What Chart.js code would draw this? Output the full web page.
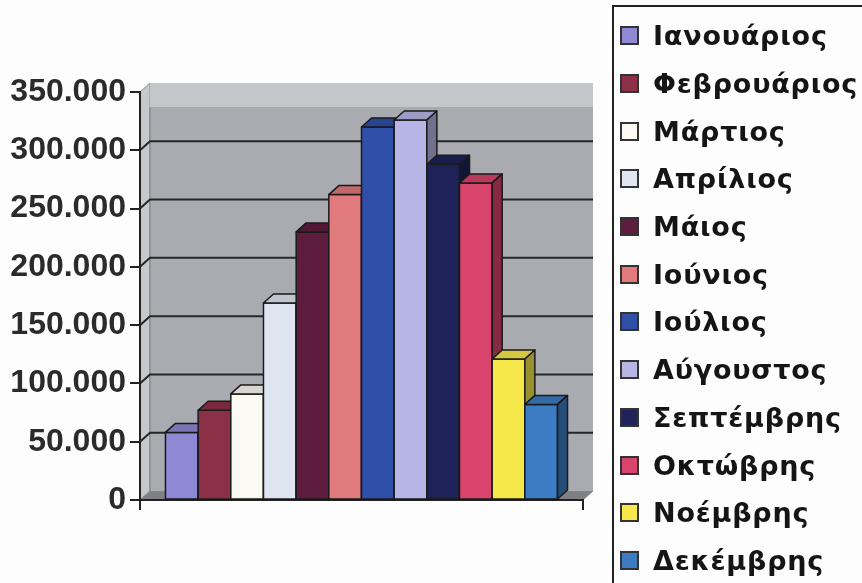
<!DOCTYPE html>
<html>
<head>
<meta charset="utf-8">
<script src="https://cdn.jsdelivr.net/npm/chart.js@4/dist/chart.umd.min.js"></script>
<style>
  body { margin: 0; background: #fdfdfd; }
  #wrap { position: relative; width: 862px; height: 583px; overflow: hidden; }
  #legend {
    position: absolute; left: 612px; top: 5px; width: 260px; height: 600px;
    border-left: 2px solid #222; border-top: 2px solid #222;
    padding-top: 5px; box-sizing: border-box;
    font-family: 'DejaVu Sans', sans-serif; font-size: 27px; font-weight: 700;
    letter-spacing: 0.8px; color: #151515;
  }
  .item { height: 47.7px; display: flex; align-items: center; white-space: nowrap; }
  .box { width: 15px; height: 15px; border: 2px solid #333; margin: 0 14px 0 6px; flex: none; }
</style>
</head>
<body>
<div id="wrap">
  <canvas id="chart" width="862" height="583"></canvas>
  <div id="legend"></div>
</div>
<script>
const months = ['Ιανουάριος', 'Φεβρουάριος', 'Μάρτιος', 'Απρίλιος', 'Μάιος', 'Ιούνιος',
  'Ιούλιος', 'Αύγουστος', 'Σεπτέμβρης', 'Οκτώβρης', 'Νοέμβρης', 'Δεκέμβρης'];
const values = [58000, 77000, 91000, 169000, 230000, 262000, 320000, 326000, 288000, 272000, 121000, 82000];
const colors = ['#8f88d4', '#8c3048', '#fafaf2', '#dfe6f2', '#5e1c3e', '#e07a7c',
  '#2f4fa8', '#b7b5e6', '#1d2258', '#d8446c', '#f6e84a', '#3b7cc2'];
const yTicks = { min: 0, max: 350000, step: 50000 };

// depth of the fake 3D
const DX = 10, DY = -9;

function shade(hex, f) {
  const n = parseInt(hex.slice(1), 16);
  const r = Math.round(((n >> 16) & 255) * f), g = Math.round(((n >> 8) & 255) * f), b = Math.round((n & 255) * f);
  return `rgb(${r},${g},${b})`;
}

function poly(ctx, pts, fill) {
  ctx.beginPath();
  ctx.moveTo(pts[0][0], pts[0][1]);
  pts.slice(1).forEach(p => ctx.lineTo(p[0], p[1]));
  ctx.closePath();
  ctx.fillStyle = fill;
  ctx.fill();
  ctx.stroke();
}

const bars3d = {
  id: 'bars3d',
  beforeDraw(chart) {
    const { ctx, chartArea: { left: L, right: R, top: T, bottom: B } } = chart;
    const ys = chart.scales.y;
    ctx.save();
    ctx.lineJoin = 'round';
    // left wall + floor
    ctx.strokeStyle = '#8a8c90'; ctx.lineWidth = 1;
    poly(ctx, [[L, B], [L, T], [L + DX, T + DY], [L + DX, B + DY]], '#c6c8cc');
    poly(ctx, [[L, B], [R, B], [R + DX, B + DY], [L + DX, B + DY]], '#7e8084');
    // back wall
    ctx.fillStyle = '#a9abb1';
    ctx.fillRect(L + DX, T + DY, R - L, B - T);
    ctx.fillStyle = '#c4c6ca';
    ctx.fillRect(L + DX, T + DY, R - L, 24);
    ctx.strokeStyle = '#7a7c80';
    ctx.beginPath(); ctx.moveTo(L + DX, T + DY + 24); ctx.lineTo(L + DX, B + DY); ctx.stroke();
    // grid lines on the back wall
    ctx.strokeStyle = '#262626'; ctx.lineWidth = 2;
    ys.ticks.forEach(t => {
      if (t.value <= 0 || t.value >= yTicks.max) return;
      const py = ys.getPixelForValue(t.value);
      ctx.beginPath();
      ctx.moveTo(L, py); ctx.lineTo(L + DX, py + DY); ctx.lineTo(R + DX, py + DY);
      ctx.stroke();
    });
    ctx.restore();
  },
  beforeDatasetDraw() { return false; },
  afterDatasetsDraw(chart) {
    const { ctx } = chart;
    ctx.save();
    ctx.strokeStyle = '#1a1a1a'; ctx.lineWidth = 1.5; ctx.lineJoin = 'round';
    chart.data.datasets.forEach((ds, i) => {
      const el = chart.getDatasetMeta(i).data[0];
      const { x, y, base, width } = el.getProps(['x', 'y', 'base', 'width'], true);
      const l = x - width / 2, r = x + width / 2;
      const c = ds.backgroundColor;
      poly(ctx, [[l, base], [l, y], [r, y], [r, base]], c);
      poly(ctx, [[l, y], [l + DX, y + DY], [r + DX, y + DY], [r, y]], shade(c, 0.86));
      poly(ctx, [[r, y], [r + DX, y + DY], [r + DX, base + DY], [r, base]], shade(c, 0.62));
    });
    ctx.restore();
  }
};

const chart = new Chart(document.getElementById('chart'), {
  type: 'bar',
  data: {
    labels: [''],
    datasets: months.map((m, i) => ({
      label: m, data: [values[i]], backgroundColor: colors[i],
      categoryPercentage: 0.885, barPercentage: 1
    }))
  },
  options: {
    responsive: false, animation: false,
    layout: { padding: { top: 92, right: 279, left: 0, bottom: 0 } },
    scales: {
      x: {
        grid: { drawOnChartArea: false, tickLength: 10, color: '#222', lineWidth: 2 },
        border: { color: '#222', width: 2 },
        ticks: { display: false },
        afterFit: s => { s.height = 83; }
      },
      y: {
        min: yTicks.min, max: yTicks.max,
        grid: { drawOnChartArea: false, tickLength: 10, color: '#222', lineWidth: 2 },
        border: { color: '#222', width: 2 },
        ticks: {
          stepSize: yTicks.step, padding: 4, color: '#2b2b2b',
          font: { family: 'Liberation Sans', size: 32, weight: 'bold' },
          callback: v => String(v).replace(/\B(?=(\d{3})+(?!\d))/g, '.')
        },
        afterFit: s => { s.width = 140; }
      }
    },
    plugins: { legend: { display: false }, tooltip: { enabled: false } }
  },
  plugins: [bars3d]
});

// legend built from the chart's datasets
document.getElementById('legend').innerHTML = chart.data.datasets.map(ds =>
  `<div class="item"><span class="box" style="background:${ds.backgroundColor}"></span>${ds.label}</div>`
).join('');
</script>
</body>
</html>
